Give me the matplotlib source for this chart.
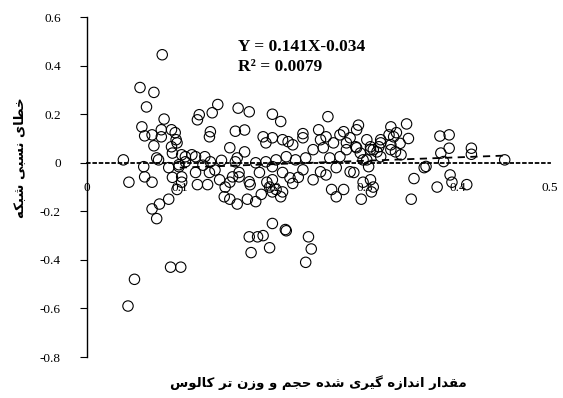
import matplotlib
matplotlib.use("Agg")
import matplotlib.pyplot as plt

# ---------------- data ----------------
x_vals = [
    0.081, 0.057, 0.072, 0.064, 0.083, 0.059, 0.062, 0.070, 0.072, 0.080, 0.080, 0.091, 0.096, 0.091,
    0.121, 0.135, 0.141, 0.119, 0.132, 0.133, 0.039, 0.075, 0.102, 0.154,
    0.045, 0.061, 0.062, 0.070, 0.077, 0.088, 0.099, 0.092, 0.102, 0.113, 0.106,
    0.132, 0.143, 0.154, 0.164, 0.070, 0.078, 0.088, 0.075, 0.090, 0.101, 0.051, 0.044, 0.130, 0.119,
    0.177, 0.197, 0.175, 0.184, 0.190, 0.200, 0.214, 0.239, 0.242, 0.236, 0.215,
    0.264, 0.277, 0.269, 0.296, 0.307, 0.288, 0.298, 0.154, 0.162, 0.173, 0.182, 0.148,
    0.176, 0.194, 0.200, 0.211,
    0.345, 0.381, 0.391, 0.391, 0.382, 0.415, 0.415, 0.451, 0.366, 0.353, 0.378, 0.392, 0.394, 0.350,
    0.410, 0.309, 0.364, 0.385,
    0.163, 0.175, 0.160, 0.170, 0.200, 0.209, 0.260, 0.293, 0.190, 0.200, 0.233, 0.250, 0.217,
    0.258, 0.277, 0.280, 0.291, 0.328, 0.331, 0.317, 0.309,
    0.284, 0.200, 0.211, 0.204, 0.209, 0.138, 0.149, 0.157, 0.170, 0.162, 0.127, 0.133, 0.099, 0.102, 0.097,
    0.092, 0.106, 0.117, 0.160, 0.182, 0.193, 0.204, 0.215, 0.225, 0.236, 0.244, 0.255, 0.262, 0.273,
    0.280, 0.295, 0.302, 0.317, 0.328, 0.339,
    0.117, 0.164, 0.186, 0.219, 0.233, 0.252, 0.269, 0.200, 0.175,
    0.095, 0.097, 0.193, 0.211, 0.222, 0.233, 0.252, 0.266, 0.302, 0.306,
    0.273, 0.284, 0.291, 0.290, 0.313, 0.317,
    0.326, 0.334, 0.328, 0.315, 0.306, 0.333, 0.298, 0.304, 0.306,
    0.197, 0.222, 0.228, 0.244, 0.258, 0.188, 0.145, 0.125, 0.338, 0.347,
]
y_vals = [
    0.445, 0.310, 0.290, 0.230, 0.180, 0.148, 0.111, 0.115, 0.070, 0.136, 0.107, 0.136, 0.095, 0.066,
    0.198, 0.206, 0.240, 0.177, 0.107, 0.128, 0.012, 0.020, 0.033, 0.062,
    -0.080, -0.016, -0.058, -0.080, 0.012, -0.020, -0.008, -0.060, -0.080, 0.033, 0.025,
    -0.040, -0.070, -0.080, -0.040, -0.190, -0.170, -0.150, -0.230, -0.430, -0.430, -0.480, -0.590, -0.090, -0.090,
    -0.370, -0.350, -0.305, -0.305, -0.300, -0.250, -0.275, -0.305, -0.355, -0.410, -0.280,
    -0.110, -0.110, -0.140, -0.150, -0.120, -0.040, -0.080, -0.150, -0.170, -0.150, -0.160, -0.140,
    -0.090, -0.080, -0.120, -0.120,
    0.160, 0.110, 0.115, 0.060, 0.040, 0.060, 0.035, 0.012, -0.015, -0.065, -0.100, -0.050, -0.080, -0.150,
    -0.090, -0.100, -0.020, 0.005,
    0.225, 0.210, 0.130, 0.135, 0.200, 0.170, 0.190, 0.155, 0.107, 0.103, 0.120, 0.136, 0.087,
    0.107, 0.128, 0.082, 0.062, 0.148, 0.107, 0.095, 0.054,
    -0.037, -0.016, -0.040, -0.110, -0.140, -0.030, -0.100, -0.058, 0.045, 0.020, 0.025, 0.004, -0.016, -0.058, -0.110,
    0.040, 0.004, 0.025, 0.004, 0.000, 0.004, 0.012, 0.025, 0.012, 0.020, 0.054, 0.062, 0.020, 0.025,
    0.054, 0.040, 0.012, 0.025, 0.054, 0.033,
    -0.040, -0.058, -0.040, -0.062, -0.029, -0.037, -0.020, -0.070, -0.078,
    0.124, 0.082, 0.082, 0.095, 0.074, 0.103, 0.095, 0.082, 0.095, 0.066,
    0.115, 0.103, 0.136, 0.066, 0.045, 0.082,
    0.115, 0.124, 0.074, 0.066, 0.054, 0.045, 0.012, -0.016, -0.070,
    -0.100, -0.085, -0.060, -0.070, -0.050, -0.130, 0.010, -0.010, 0.080, 0.100,
]
slope, intercept = 0.141, -0.034
trend_x = [0.10, 0.45]
x_ticks = [0, 0.1, 0.2, 0.3, 0.4, 0.5]
x_ticklabels = ["0", "0.1", "0.2", "0.3", "0.4", "0.5"]
y_ticks = [-0.8, -0.6, -0.4, -0.2, 0, 0.2, 0.4, 0.6]
y_ticklabels = ["-0.8", "-0.6", "-0.4", "-0.2", "0", "0.2", "0.4", "0.6"]
eq_text = "Y = 0.141X-0.034"
r2_text = "R\u00b2 = 0.0079"
x_label = "مقدار اندازه گیری شده حجم و وزن تر کالوس"
y_label = "خطای نسبی شبکه"

# ------------- minimal Arabic/Persian shaping -------------
FORMS = {  # isolated, final, initial, medial
    'ا': (0xFE8D, 0xFE8E, None, None),
    'ب': (0xFE8F, 0xFE90, 0xFE91, 0xFE92),
    'ت': (0xFE95, 0xFE96, 0xFE97, 0xFE98),
    'ج': (0xFE9D, 0xFE9E, 0xFE9F, 0xFEA0),
    'ح': (0xFEA1, 0xFEA2, 0xFEA3, 0xFEA4),
    'خ': (0xFEA5, 0xFEA6, 0xFEA7, 0xFEA8),
    'د': (0xFEA9, 0xFEAA, None, None),
    'ر': (0xFEAD, 0xFEAE, None, None),
    'ز': (0xFEAF, 0xFEB0, None, None),
    'س': (0xFEB1, 0xFEB2, 0xFEB3, 0xFEB4),
    'ش': (0xFEB5, 0xFEB6, 0xFEB7, 0xFEB8),
    'ط': (0xFEC1, 0xFEC2, 0xFEC3, 0xFEC4),
    'ق': (0xFED5, 0xFED6, 0xFED7, 0xFED8),
    'ل': (0xFEDD, 0xFEDE, 0xFEDF, 0xFEE0),
    'م': (0xFEE1, 0xFEE2, 0xFEE3, 0xFEE4),
    'ن': (0xFEE5, 0xFEE6, 0xFEE7, 0xFEE8),
    'ه': (0xFEE9, 0xFEEA, 0xFEEB, 0xFEEC),
    'و': (0xFEED, 0xFEEE, None, None),
    'ی': (0xFBFC, 0xFBFD, 0xFBFE, 0xFBFF),
    'ک': (0xFB8E, 0xFB8F, 0xFB90, 0xFB91),
    'گ': (0xFB92, 0xFB93, 0xFB94, 0xFB95),
}


def shape(text):
    out = []
    n = len(text)
    for i, ch in enumerate(text):
        if ch not in FORMS:
            out.append(ch)
            continue
        f = FORMS[ch]
        prev = text[i - 1] if i > 0 else None
        nxt = text[i + 1] if i < n - 1 else None
        join_prev = prev in FORMS and FORMS[prev][2] is not None
        join_next = f[2] is not None and nxt in FORMS
        if join_prev and join_next:
            code = f[3]
        elif join_prev:
            code = f[1]
        elif join_next:
            code = f[2]
        else:
            code = f[0]
        out.append(chr(code))
    return "".join(reversed(out))


# ---------------- plot ----------------
fig = plt.figure(figsize=(5.63, 3.98), dpi=100)
ax = fig.add_axes([0.155, 0.103, 0.822, 0.854])

ax.scatter(x_vals, y_vals, s=56, facecolors="none", edgecolors="black", linewidths=0.8, zorder=3)
ax.plot(trend_x, [slope * v + intercept for v in trend_x], color="black", lw=1.3,
        ls=(0, (4, 3)), zorder=4)

ax.set_xlim(0, 0.5)
ax.set_ylim(-0.8, 0.6)

for s in ["top", "right"]:
    ax.spines[s].set_visible(False)
ax.spines["bottom"].set_position(("data", 0))
ax.spines["bottom"].set_linestyle((0, (1.5, 2)))
ax.spines["bottom"].set_linewidth(1.3)
ax.spines["left"].set_linewidth(1.0)

serif = "Liberation Serif"
ax.set_xticks(x_ticks)
ax.set_xticklabels(x_ticklabels, fontfamily=serif, fontsize=9.5)
ax.set_yticks(y_ticks)
ax.set_yticklabels(y_ticklabels, fontfamily=serif, fontsize=9.5)
ax.tick_params(axis="x", length=0, pad=14)
ax.tick_params(axis="y", length=5, direction="out", pad=14)

ax.text(0.163, 0.478, eq_text, fontfamily=serif, fontsize=12.5, fontweight="bold",
        va="center", ha="left")
ax.text(0.163, 0.396, r2_text, fontfamily=serif, fontsize=12.5, fontweight="bold",
        va="center", ha="left")

fig.text(0.565, 0.038, shape(x_label), fontfamily="DejaVu Sans", fontsize=9.5,
         fontweight="bold", ha="center", va="center")
fig.text(0.035, 0.605, shape(y_label), fontfamily="DejaVu Sans", fontsize=9.5,
         fontweight="bold", ha="center", va="center", rotation=90)

fig.savefig("out.png", dpi=100)
